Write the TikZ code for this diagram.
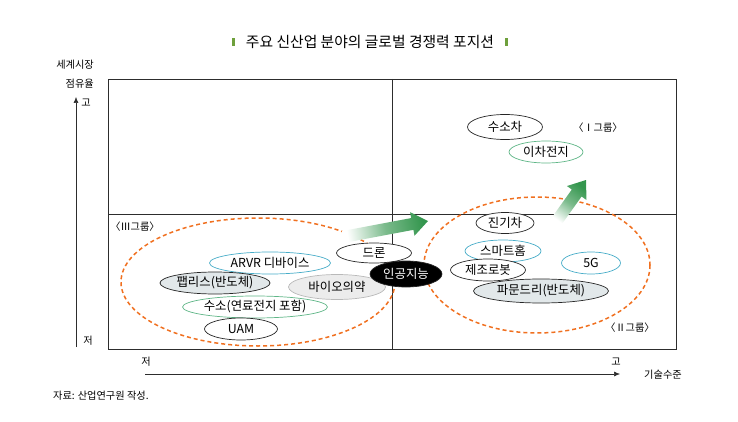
\documentclass[tikz,border=0pt]{standalone}
\usepackage{fontspec}
\setmainfont{Noto Sans CJK KR}
\usetikzlibrary{shapes.geometric,arrows.meta,calc}
\definecolor{orng}{RGB}{240,112,32}
\definecolor{grn}{RGB}{52,150,78}
\definecolor{blu}{RGB}{70,172,200}
\definecolor{lgrn}{RGB}{95,182,135}
\definecolor{fabfill}{RGB}{226,232,234}
\definecolor{biofill}{RGB}{236,236,236}
\definecolor{biodraw}{RGB}{185,185,185}
\definecolor{frm}{RGB}{45,45,45}
\definecolor{barg}{RGB}{110,160,60}
\begin{document}
\begin{tikzpicture}[x=1pt,y=-1pt,
  oval/.style={ellipse, draw=black!85, fill=white, line width=0.7pt, inner sep=0pt,
    font=\fontsize{12.4}{14}\selectfont, text=black},
  frame/.style={draw=frm, line width=0.9pt},
  grp/.style={dashed, draw=orng, line width=1.5pt, dash pattern=on 4pt off 3pt},
  lbl/.style={font=\fontsize{10.2}{12}\selectfont, text=black, inner sep=0pt},
  axisline/.style={draw=frm, line width=0.6pt, -{Latex[length=6pt,width=5pt]}},
  titlebar/.style={fill=barg, draw=none, minimum width=3pt, minimum height=8pt, inner sep=0pt}]
\useasboundingbox (0,0) rectangle (738,422);

% title
\node[font=\fontsize{14.8}{17}\selectfont, text=black, inner sep=0pt] (title) at (370,42) {주요 신산업 분야의 글로벌 경쟁력 포지션};
\node[titlebar] (tb1) at (233,42) {};
\node[titlebar] (tb2) at (506,42) {};

% frame
\coordinate (fTL) at (108,79);
\coordinate (fBR) at (676,349);
\draw[frame] (fTL) rectangle (fBR);
\coordinate (vT) at (392,79);
\coordinate (vB) at (392,349);
\coordinate (hL) at (108,214);
\coordinate (hR) at (676,214);
\draw[frame] (vT) -- (vB);
\draw[frame] (hL) -- (hR);

% axis labels
\node[lbl, anchor=east] (yl1) at (94,65) {세계시장};
\node[lbl, anchor=east] (yl2) at (94,84) {점유율};
\coordinate (yB) at (76,347);
\coordinate (yT) at (76,97);
\draw[axisline] (yB) -- (yT);
\node[lbl] (yhi) at (86,103) {고};
\node[lbl] (ylo) at (88,341) {저};
\coordinate (xL) at (145,374);
\coordinate (xR) at (620,374);
\draw[axisline] (xL) -- (xR);
\node[lbl] (xlo) at (146,362) {저};
\node[lbl] (xhi) at (616,362) {고};
\node[lbl] (xlab) at (663,375) {기술수준};
\node[lbl, anchor=west] (src) at (53,396) {자료: 산업연구원 작성.};

% group ellipses
\draw[grp] (258,282) ellipse [x radius=137, y radius=64];
\draw[grp] (537,265) ellipse [x radius=113, y radius=68];

% group labels
\node[lbl] (g3) at (135,227) {〈Ⅲ그룹〉};
\node[lbl] (g1) at (598,128) {〈Ⅰ그룹〉};
\node[lbl] (g2) at (630,328) {〈Ⅱ그룹〉};

% gradient arrows
\coordinate (laT) at (343,237);
\coordinate (laP) at (428,221);
\coordinate (laB) at ($(laP)!16pt!(laT)$);
\shade[top color=white, bottom color=grn, middle color=grn!65, shading angle=101]
  ($(laT)!6pt!90:(laP)$) -- ($(laB)!6pt!-90:(laT)$) -- ($(laB)!12pt!-90:(laT)$) -- (laP)
  -- ($(laB)!12pt!90:(laT)$) -- ($(laB)!6pt!90:(laT)$) -- ($(laT)!6pt!-90:(laP)$) -- cycle;
\coordinate (raT) at (556,222);
\coordinate (raP) at (586,180);
\coordinate (raB) at ($(raP)!16pt!(raT)$);
\shade[top color=white, bottom color=grn, middle color=grn!65, shading angle=144]
  ($(raT)!6pt!90:(raP)$) -- ($(raB)!6pt!-90:(raT)$) -- ($(raB)!12pt!-90:(raT)$) -- (raP)
  -- ($(raB)!12pt!90:(raT)$) -- ($(raB)!6pt!90:(raT)$) -- ($(raT)!6pt!-90:(raP)$) -- cycle;

% group III items
\node[oval, draw=blu, minimum width=121, minimum height=22] (arvr) at (270,263) {ARVR 디바이스};
\node[oval, fill=fabfill, minimum width=110, minimum height=22] (fab) at (215,283) {팹리스(반도체)};
\node[oval, fill=biofill, draw=biodraw, minimum width=97, minimum height=25] (bio) at (337,287) {바이오의약};
\node[oval, draw=lgrn, minimum width=140, minimum height=22] (h2) at (255,307) {수소(연료전지 포함)};
\node[oval, minimum width=73, minimum height=22] (uam) at (241,329) {UAM};
\node[oval, minimum width=75, minimum height=20] (drone) at (374,253) {드론};
\node[oval, fill=black, text=white, minimum width=72, minimum height=26] (ai) at (406,274) {인공지능};

% group I items
\node[oval, minimum width=75, minimum height=25] (car) at (505,127) {수소차};
\node[oval, draw=lgrn, minimum width=74, minimum height=22] (batt) at (546,152) {이차전지};

% group II items
\node[oval, minimum width=58, minimum height=21] (ev) at (505,223) {진기차};
\node[oval, draw=blu, minimum width=76, minimum height=22] (home) at (503,251) {스마트홈};
\node[oval, minimum width=75, minimum height=22] (robot) at (488,270) {제조로봇};
\node[oval, draw=blu, minimum width=59, minimum height=22] (g5) at (591,263) {5G};
\node[oval, fill=fabfill, minimum width=135, minimum height=24] (found) at (541,291) {파문드리(반도체)};
\end{tikzpicture}
\end{document}
